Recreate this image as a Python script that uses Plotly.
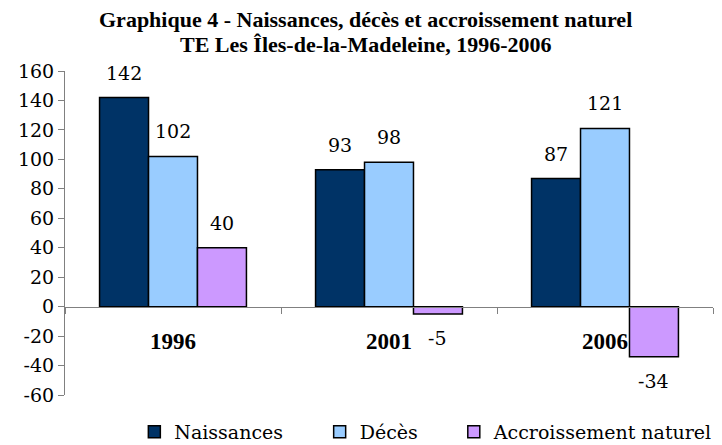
import plotly.graph_objects as go

# Data
years = ['1996', '2001', '2006']
naissances = [142, 93, 87]
deces = [102, 98, 121]
accroissement = [40, -5, -34]

series_names = ['Naissances', 'Décès', 'Accroissement naturel']
series_colors = ['#003366', '#99CCFF', '#CC99FF']
legend_ids = ['legend', 'legend2', 'legend3']

title_lines = ['Graphique 4 - Naissances, décès et accroissement naturel',
               'TE Les Îles-de-la-Madeleine, 1996-2006']

y_ticks = [-60, -40, -20, 0, 20, 40, 60, 80, 100, 120, 140, 160]

BOLD_FONT = 'Liberation Serif'
TEXT_FONT = 'DejaVu Serif'
TEXT_SIZE = 19
BARGAP = 0.32

fig = go.Figure()

for name, values, color, leg in zip(series_names,
                                    [naissances, deces, accroissement],
                                    series_colors, legend_ids):
    fig.add_trace(
        go.Bar(x=years,
               y=values,
               name=name,
               legend=leg,
               showlegend=True,
               marker=dict(color=color, line=dict(color='black', width=1.5))))

# Data labels above positive bars and below negative bars
bar_w = (1 - BARGAP) / 3
for j, values in enumerate([naissances, deces, accroissement]):
    for i, v in enumerate(values):
        fig.add_annotation(x=i + (j - 1) * bar_w,
                           y=v,
                           text=str(v),
                           showarrow=False,
                           yanchor='bottom' if v >= 0 else 'top',
                           yshift=12 if v >= 0 else -11,
                           font=dict(family=TEXT_FONT, size=TEXT_SIZE,
                                     color='black'))

# Two-line title
for k, line in enumerate(title_lines):
    fig.add_annotation(text=line,
                       xref='paper',
                       yref='paper',
                       x=0.464,
                       y=1.160 - k * 0.077,
                       xanchor='center',
                       yanchor='middle',
                       showarrow=False,
                       borderpad=0,
                       font=dict(family=BOLD_FONT, size=22, color='black',
                                 weight='bold'))

legend_common = dict(orientation='h',
                     yanchor='middle',
                     y=-0.114,
                     xanchor='left',
                     bgcolor='rgba(0,0,0,0)',
                     font=dict(family=TEXT_FONT, size=TEXT_SIZE,
                               color='black'))

fig.update_layout(
    width=714,
    height=437,
    margin=dict(l=57, r=9, t=63, b=50, autoexpand=False),
    plot_bgcolor='white',
    paper_bgcolor='white',
    barmode='group',
    bargap=BARGAP,
    bargroupgap=0,
    font=dict(family=TEXT_FONT, size=TEXT_SIZE, color='black'),
    showlegend=True,
    legend=dict(x=0.107, **legend_common),
    legend2=dict(x=0.393, **legend_common),
    legend3=dict(x=0.600, **legend_common),
    xaxis=dict(anchor='free',
               position=60 / 220,
               automargin=False,
               showline=True,
               linecolor='#808080',
               linewidth=1,
               ticks='outside',
               tickson='boundaries',
               ticklen=6,
               tickcolor='#808080',
               ticklabelstandoff=14,
               tickfont=dict(family=BOLD_FONT, size=23, color='black',
                             weight='bold'),
               showgrid=False,
               zeroline=False),
    yaxis=dict(range=[-60, 160],
               automargin=False,
               tickvals=y_ticks,
               ticktext=[str(v) for v in y_ticks],
               showline=True,
               linecolor='#808080',
               linewidth=1,
               ticks='outside',
               ticklen=6,
               tickcolor='#808080',
               showgrid=False,
               zeroline=False,
               tickfont=dict(family=TEXT_FONT, size=TEXT_SIZE,
                             color='black')),
)

fig.write_html('out.html')
